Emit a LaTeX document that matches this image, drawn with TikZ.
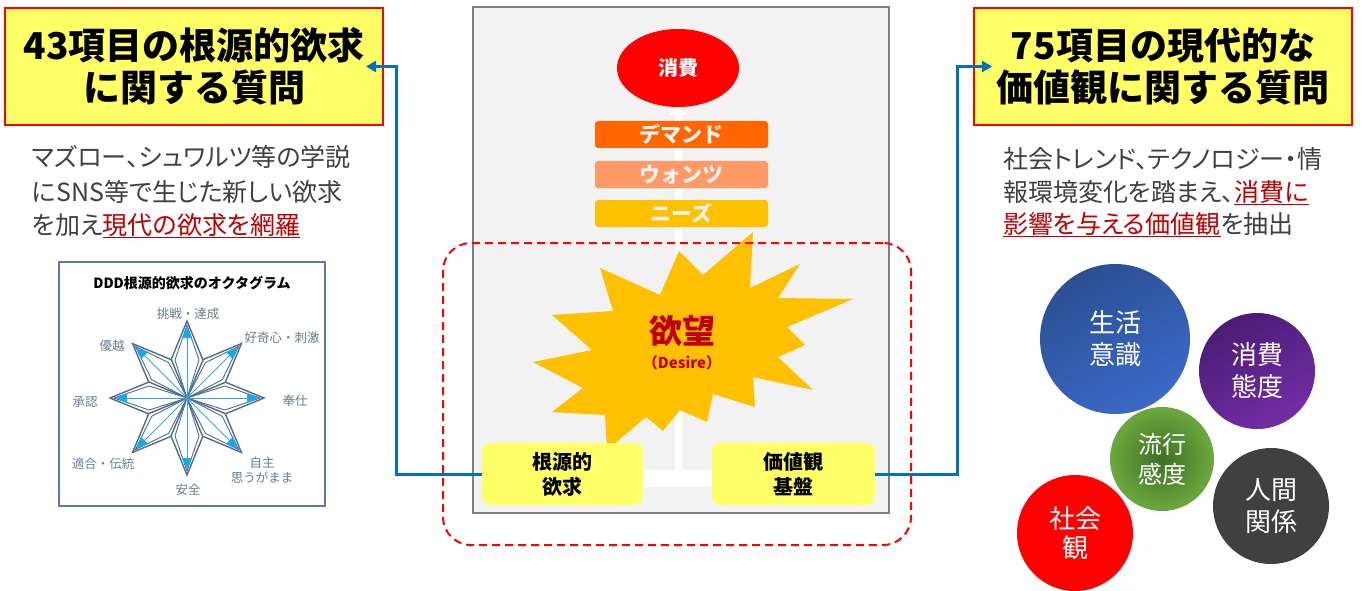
\documentclass[tikz,border=0pt]{standalone}
\usepackage{fontspec}
\setmainfont{Noto Sans CJK JP}
\newfontfamily\jpp{Noto Sans CJK JP}[RawFeature=+palt]
\usetikzlibrary{shapes.geometric,arrows.meta,calc}
\definecolor{ttyellow}{HTML}{FFFF66}
\definecolor{txtgray}{HTML}{404040}
\definecolor{ulred}{HTML}{C00000}
\definecolor{frgray}{HTML}{F2F2F2}
\definecolor{frline}{HTML}{7F7F7F}
\definecolor{cdemand}{HTML}{FF6600}
\definecolor{cwants}{HTML}{FF9966}
\definecolor{cneeds}{HTML}{FFC000}
\definecolor{cstar}{HTML}{FFC000}
\definecolor{cblue}{HTML}{0070C0}
\definecolor{octline}{HTML}{4E6D92}
\definecolor{octarrow}{HTML}{3AA6E0}
\definecolor{octtip}{HTML}{00B0F0}
\definecolor{octlabel}{HTML}{6B7C8E}
\definecolor{octframe}{HTML}{5A7CA2}
\newcommand{\redul}[1]{\textcolor{ulred}{\underline{#1}}}
\tikzset{
  titlebox/.style={draw=red, line width=2pt, fill=ttyellow, minimum width=378pt, minimum height=117pt,
    align=center, inner sep=0pt, font=\bfseries\fontsize{37}{42}\selectfont},
  bodyline/.style={anchor=base west, inner sep=0pt, text=txtgray, font=\jpp\fontsize{25}{30}\selectfont},
  stepbar/.style={rounded corners=3pt, minimum width=173pt, minimum height=27pt, inner sep=0pt,
    text=frgray, font=\bfseries\fontsize{21}{24}\selectfont},
  basebox/.style={rounded corners=9pt, fill=ttyellow, minimum height=62pt, inner sep=0pt, align=center,
    font=\bfseries\fontsize{20}{25}\selectfont},
  bluearr/.style={draw=cblue, line width=3pt, -{Triangle[length=10pt,width=11pt]}},
  octlab/.style={inner sep=0pt, text=octlabel, align=center, font=\fontsize{12.5}{15}\selectfont},
  kite/.style={draw=octline, line width=1.4pt, fill=white, line join=miter},
  bubble/.style={circle, inner sep=0pt, text=white, align=center, font=\fontsize{26}{32}\selectfont}
}
\begin{document}
\begin{tikzpicture}[x=1pt,y=-1pt]
\useasboundingbox (0,0) rectangle (1363,591);
\fill[white] (0,0) rectangle (1363,591);

% ---------- left column ----------
\node[titlebox] (lt) at (194,66.5) {43項目の根源的欲求\\に関する質問};
\node[bodyline] (l1) at (32,167) {マズロー、シュワルツ等の学説};
\node[bodyline] (l2) at (32,201) {にSNS等で生じた新しい欲求};
\node[bodyline] (l3) at (32,234) {を加え\redul{現代の欲求を網羅}};

% octagram chart
\node[draw=octframe, line width=1.8pt, fill=white, minimum width=266pt, minimum height=244pt, inner sep=0pt] (ob) at (192,384) {};
\node[inner sep=0pt, font=\bfseries\fontsize{14}{16}\selectfont] (ot) at (192,283) {DDD根源的欲求のオクタグラム};
\foreach \a in {0,45,...,315}{
  \begin{scope}[shift={(187,398)}, rotate=\a]
    \draw[kite] (0,0) -- (38,16) -- (77,0) -- (38,-16) -- cycle;
    \draw[kite, line width=0.9pt] (0,0) -- (38,12) -- (73,0) -- (38,-12) -- cycle;
  \end{scope}
}
\foreach \a in {0,45,...,315}{
  \begin{scope}[shift={(187,398)}, rotate=\a]
    \draw[draw=octarrow, line width=0.9pt, -{Triangle[length=11pt,width=10pt,fill=octtip]}] (0,0) -- (71,0);
  \end{scope}
}
\node[octlab] (o1) at (188,314) {挑戦・達成};
\node[octlab] (o2) at (282,338) {好奇心・刺激};
\node[octlab] (o3) at (295,401) {奉仕};
\node[octlab] (o4) at (262,470) {自主\\思うがまま};
\node[octlab] (o5) at (188,490) {安全};
\node[octlab] (o6) at (103,464) {適合・伝統};
\node[octlab] (o7) at (85,402) {承認};
\node[octlab] (o8) at (112,346) {優越};

% ---------- center ----------
\node[draw=frline, line width=1.5pt, fill=frgray, minimum width=416pt, minimum height=506pt, inner sep=0pt] (fr) at (681,260) {};
\node[ellipse, fill=red, minimum width=122pt, minimum height=78pt, inner sep=0pt, text=white,
  font=\bfseries\fontsize{20}{24}\selectfont] (ell) at (678,68) {消費};
\coordinate (tb) at (678,478);
\draw[white, line width=7pt, -{Triangle[length=8pt,width=20pt]}] (ell.south |- tb) -- (ell.south);
\node[stepbar, fill=cdemand] (b1) at (681.5,134.5) {デマンド};
\node[stepbar, fill=cwants] (b2) at (681.5,174.5) {ウォンツ};
\node[stepbar, fill=cneeds] (b3) at (681.5,213.5) {ニーズ};

\fill[cstar] (600,268) -- (660,295) -- (679,251) -- (703,275) -- (753,232) -- (750,288) -- (800,264)
  -- (778,298) -- (853,299) -- (787,327) -- (805,345) -- (778,357) -- (813,390) -- (753,377)
  -- (755,407) -- (713,394) -- (707,422) -- (680,410) -- (663,431) -- (646,417) -- (607,450)
  -- (605,415) -- (552,412) -- (583,388) -- (533,362) -- (592,350) -- (552,315) -- (613,311) -- cycle;
\node[inner sep=0pt, text=ulred, font=\bfseries\fontsize{33}{36}\selectfont] (yb) at (682,331) {欲望};
\node[inner sep=0pt, text=ulred, font=\bfseries\fontsize{15}{18}\selectfont] (ds) at (682,363) {（Desire）};

\node[basebox, minimum width=161pt] (kb) at (562.5,474) {根源的\\欲求};
\node[basebox, minimum width=163pt] (vb) at (793.5,474) {価値観\\基盤};
\draw[white, line width=17pt] ([yshift=-4pt]kb.east) -- ([yshift=-4pt]vb.west);

\node[draw=red, dashed, dash pattern=on 8pt off 5pt, line width=2pt, rounded corners=28pt,
  minimum width=468pt, minimum height=302pt, inner sep=0pt] (dz) at (677,394) {};

% ---------- right column ----------
\node[titlebox] (rt) at (1163,66.5) {75項目の現代的な\\価値観に関する質問};
\node[bodyline] (r1) at (1003,168) {社会トレンド、テクノロジー・情};
\node[bodyline] (r2) at (1003,201) {報環境変化を踏まえ、\redul{消費に}};
\node[bodyline] (r3) at (1003,233) {\redul{影響を与える価値観}を抽出};

\node[bubble, minimum size=150pt, shading=axis,
  top color={rgb,255:red,43;green,79;blue,146}, bottom color={rgb,255:red,58;green,106;blue,200}, shading angle=30] (c1) at (1115,339) {生活\\意識};
\node[bubble, minimum size=116pt, shading=axis,
  top color={rgb,255:red,75;green,28;blue,118}, bottom color={rgb,255:red,115;green,45;blue,165}, shading angle=30] (c2) at (1257,371) {消費\\態度};
\node[bubble, minimum size=104pt, shading=radial,
  inner color={rgb,255:red,62;green,112;blue,38}, outer color={rgb,255:red,108;green,168;blue,62}, font=\fontsize{24}{30}\selectfont] (c3) at (1162,459) {流行\\感度};
\node[bubble, minimum size=116pt, fill={rgb,255:red,64;green,64;blue,64}] (c4) at (1271,506) {人間\\関係};
\node[bubble, minimum size=116pt, fill=red, font=\fontsize{26}{29}\selectfont] (c5) at (1075,533) {社会\\観};

% ---------- connectors ----------
\draw[bluearr] (kb.west) -- ++(-85,0) |- ([xshift=-18pt]lt.east);
\draw[bluearr] (vb.east) -- ++(82,0) |- ([xshift=19pt]rt.west);
\end{tikzpicture}
\end{document}
